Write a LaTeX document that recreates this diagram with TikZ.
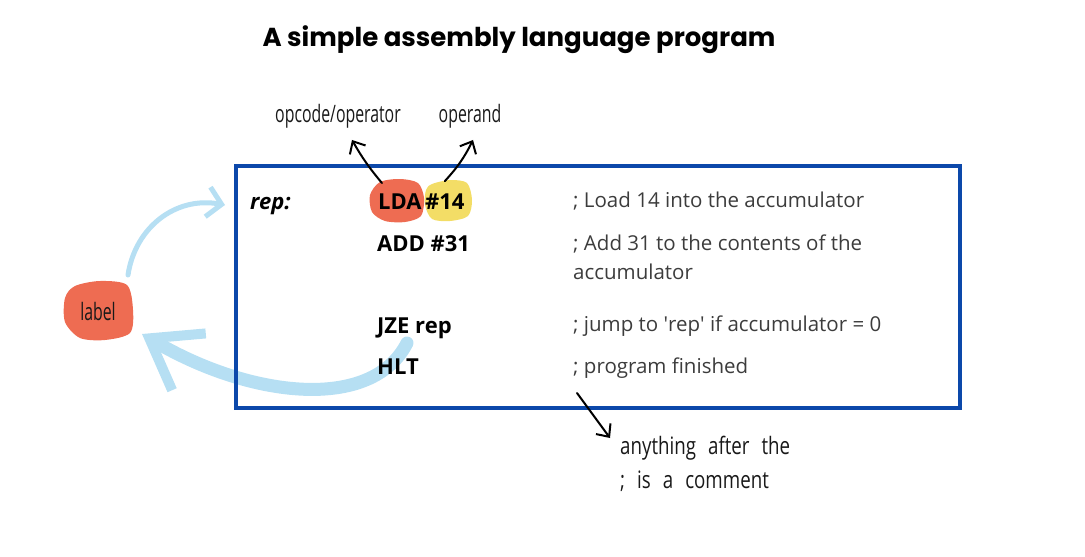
\documentclass[tikz,border=0pt]{standalone}
\usepackage{fontspec}
\setmainfont{Open Sans}
\newfontfamily\titlefont{Poppins}
\newfontfamily\handfont{Open Sans}[FakeStretch=0.66]
\newfontfamily\notefont{Open Sans}[FakeStretch=0.78]
\newcommand\handtext{\handfont\fontsize{24}{34}\selectfont}
\newcommand\notetext{\notefont\fontsize{24}{34}\selectfont\spaceskip 12pt plus 2pt\relax}
\usetikzlibrary{arrows.meta,calc}

\definecolor{boxblue}{RGB}{12,72,170}
\definecolor{blobred}{RGB}{238,108,82}
\definecolor{blobyellow}{RGB}{243,221,102}
\definecolor{skyblue}{RGB}{182,223,243}
\definecolor{cmtgray}{RGB}{60,60,60}

\tikzset{
  code/.style={font=\fontsize{22}{26}\selectfont\bfseries,anchor=base west,inner sep=0pt},
  cmt/.style={font=\fontsize{20.5}{29}\selectfont,text=cmtgray,anchor=base west,inner sep=0pt,align=left},
  hand/.style={font=\handtext,text=black!90,inner sep=0pt,align=left},
  pointer/.style={line width=2pt,line cap=round,-{Straight Barb[length=10pt,width=18pt,line width=2pt]}},
  loopback/.style={skyblue,line cap=round}
}

\begin{document}
\begin{tikzpicture}[x=1pt,y=-1pt]
\useasboundingbox (0,0) rectangle (1085,557);
% title
\node[font=\titlefont\bfseries\fontsize{26}{30}\selectfont,anchor=base] (title) at (519,46) {A simple assembly language program};
% blobs behind the first line
\fill[blobred] plot[smooth cycle] coordinates {(380,182) (400,179) (418,183) (424,198) (421,216) (405,222) (385,221) (372,212) (370,195)};
\fill[blobyellow] plot[smooth cycle] coordinates {(432,184) (450,180) (467,183) (472,200) (468,216) (450,221) (432,219) (425,205) (426,190)};
\fill[blobred] plot[smooth cycle] coordinates {(75,286) (100,281) (127,285) (133,310) (130,333) (105,340) (80,338) (65,322) (65,298)};
% label arrows
\coordinate (loopin) at (225,205);
\coordinate (loopout) at (407,343);
\coordinate (lblout) at (128,275);
\coordinate (lblin) at (142,334);
\draw[loopback,line width=5pt,-{Straight Barb[length=14pt,width=30pt,line width=5pt]}] (lblout) .. controls (135,228) and (175,196) .. (loopin);
\draw[loopback,line width=13pt,-{Straight Barb[length=46pt,width=66pt,line width=10pt]}] (loopout) .. controls (372,412) and (250,398) .. (lblin);
% code
\node[code,font=\fontsize{22}{26}\selectfont\bfseries\itshape] (rep) at (250,209) {rep:};
\node[code] (lda) at (378,209) {LDA};
\node[code] (imm) at (425,209) {\#14};
\node[code] (add) at (377,251) {ADD \#31};
\node[code] (jze) at (377,333) {JZE rep};
\node[code] (hlt) at (377,374) {HLT};
% comments
\node[cmt] (c1) at (573,207) {; Load 14 into the accumulator};
\node[cmt] (c2) at (573,279) {; Add 31 to the contents of the\\accumulator};
\node[cmt] (c3) at (573,331) {; jump to \textquotesingle rep\textquotesingle{} if accumulator = 0};
\node[cmt] (c4) at (573,373) {; program finished};
% handwritten notes
\node[hand,anchor=base] (opc) at (338,122) {opcode/operator};
\node[hand,anchor=base] (opd) at (470,122) {operand};
\node[hand] (lbl) at (98,311) {label};
\node[hand,font=\notetext,anchor=north west] (note) at (620,436) {anything after the\\; is a comment};
% program box
\draw[boxblue,line width=4pt] (236,166) rectangle (960,408);
% pointers
\draw[pointer] ($(lda.north)+(-18,-10)$) to[bend left=5] ($(opc.south)+(14,12)$);
\draw[pointer] ($(imm.north)+(0,-12)$) to[bend right=8] ($(opd.south)+(3,12)$);
\coordinate (semi) at (577,393);
\draw[pointer] (semi) -- ($(note.north west)+(-10,2)$);
\end{tikzpicture}
\end{document}
